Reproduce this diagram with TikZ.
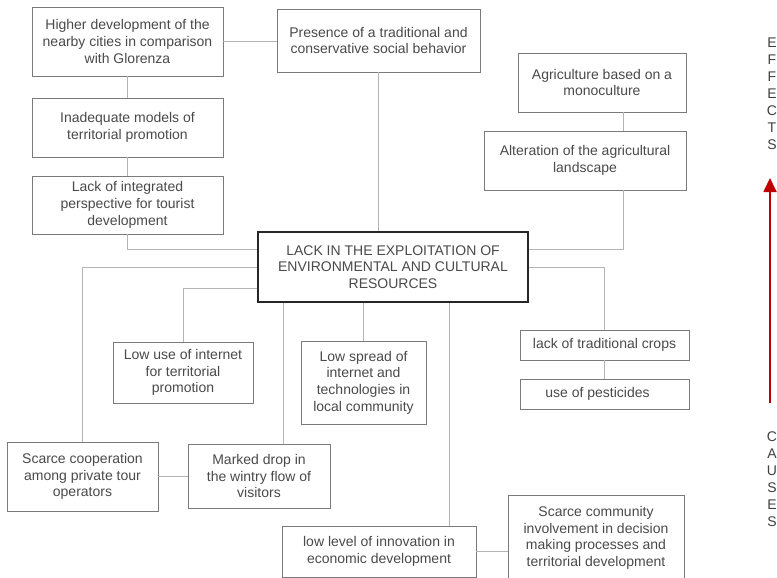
\documentclass[tikz,border=0pt]{standalone}
\usepackage{fontspec}
\setmainfont{Liberation Sans}
\usetikzlibrary{arrows.meta}
\definecolor{txtgray}{HTML}{4A4A4A}
\definecolor{boxgray}{HTML}{7A7A7A}
\definecolor{linkgray}{HTML}{B4B4B4}
\definecolor{arrowred}{HTML}{C00000}

\begin{document}
\begin{tikzpicture}[x=1pt,y=-1pt,
  every node/.style={font=\fontsize{14}{16.7}\selectfont, text=txtgray},
  cbox/.style 2 args={draw=boxgray, line width=0.9pt, align=center,
    inner sep=0pt, minimum width=#1, minimum height=#2},
  corebox/.style={draw=black!85, line width=2pt, align=center,
    inner sep=0pt, minimum width=270, minimum height=70},
  link/.style={draw=linkgray, line width=0.9pt},
  letters/.style={align=center, font=\fontsize{14}{17}\selectfont, text=black!75},
  axis/.style={draw=arrowred, line width=1.8pt, -{Triangle[width=13pt,length=14pt]}}
]
\useasboundingbox (0,0) rectangle (777,578);
\clip (0,0) rectangle (777,578);
\fill[white] (0,0) rectangle (777,578);

% central problem
\node[corebox] (core) at (393,267)
  {LACK IN THE EXPLOITATION OF\\ENVIRONMENTAL AND CULTURAL\\RESOURCES};

% effects (upper part)
\node[cbox={191}{69}] (hi) at (127.5,41.5)
  {Higher development of the\\nearby cities in comparison\\with Glorenza};
\node[cbox={203}{63}] (pres) at (378.5,40.5)
  {Presence of a traditional and\\conservative social behavior};
\node[cbox={191}{59}] (inad) at (127.5,127.5)
  {Inadequate models of\\territorial promotion};
\node[cbox={191}{58}] (integ) at (127.5,205)
  {Lack of integrated\\perspective for tourist\\development};
\node[cbox={168}{59}] (agri) at (602,82.5)
  {Agriculture based on a\\monoculture};
\node[cbox={202}{59}] (alter) at (585,160.5)
  {Alteration of the agricultural\\landscape};

% causes (lower part)
\node[cbox={140}{61}] (lowuse) at (183,372.5)
  {Low use of internet\\for territorial\\promotion};
\node[cbox={125}{83}] (spread) at (363.5,382.5)
  {Low spread of\\internet and\\technologies in\\local community};
\node[cbox={151}{69}] (coop) at (82.5,476.5)
  {Scarce cooperation\\among private tour\\operators};
\node[cbox={142}{64}] (drop) at (259,476)
  {Marked drop in\\the wintry flow of\\visitors};
\node[cbox={169}{30}] (crops) at (604.5,345)
  {lack of traditional crops};
\node[cbox={169}{30}] (pest) at (604.5,394)
  {use of pesticides\hspace*{14pt}};
\node[cbox={194}{51}] (innov) at (379,551.5)
  {low level of innovation in\\economic development};
\node[cbox={176}{86}] (commun) at (596,538)
  {Scarce community\\involvement in decision\\making processes and\\territorial development};

% connectors
\draw[link] (hi.east) -- (pres.west |- hi.east);
\draw[link] (hi.south) -- (inad.north);
\draw[link] (inad.south) -- (integ.north);
\draw[link] (integ.south) |- ([yshift=18pt]core.west);
\draw[link] (pres.south) -- (pres.south |- core.north);
\draw[link] ([xshift=21pt]agri.south) -- ([xshift=21pt]agri.south |- alter.north);
\draw[link] ([xshift=38pt]alter.south) |- ([yshift=18pt]core.east);

\draw[link] (core.west) -| (coop.north);
\draw[link] ([yshift=-21pt]core.west) -| (lowuse.north);
\draw[link] ([xshift=-110pt]core.south) -- ([xshift=-110pt]core.south |- drop.north);
\draw[link] (spread.north |- core.south) -- (spread.north);
\draw[link] ([xshift=56pt]core.south) -- ([xshift=56pt]core.south |- innov.north);
\draw[link] (core.east) -| (crops.north);
\draw[link] (crops.south) -- (pest.north);
\draw[link] (coop.east) -- (drop.west |- coop.east);
\draw[link] (innov.east) -- (commun.west |- innov.east);

% direction of reading: causes below, effects above
\node[letters] (effects) at (772,94) {E\\F\\F\\E\\C\\T\\S};
\node[letters] (causes) at (772,479.5) {C\\A\\U\\S\\E\\S};
\coordinate (arrowfoot) at (770,403);
\coordinate (arrowtip) at (770,178);
\draw[axis] (arrowfoot) -- (arrowtip);
\end{tikzpicture}
\end{document}
